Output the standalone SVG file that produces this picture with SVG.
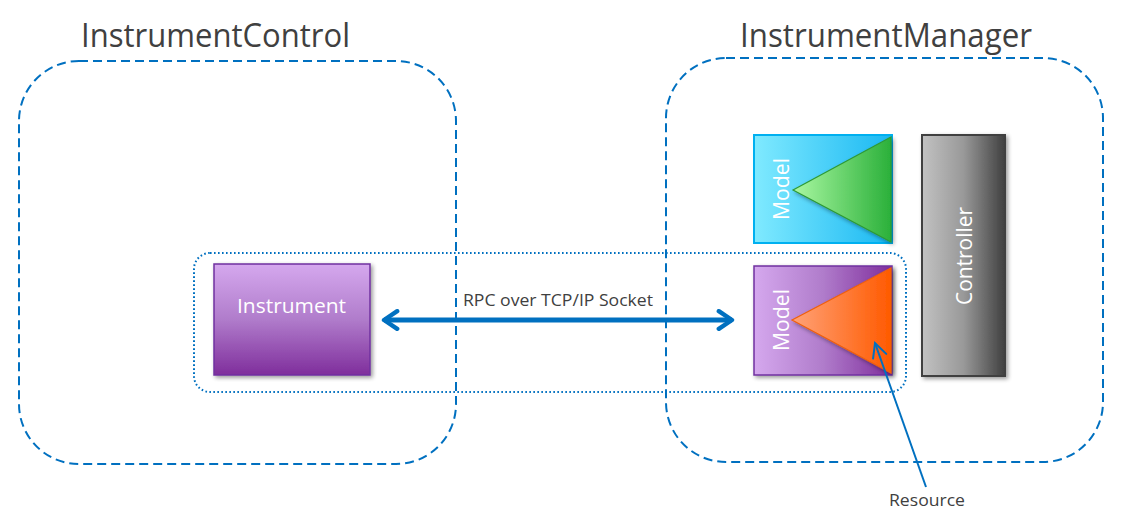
<svg xmlns="http://www.w3.org/2000/svg" width="1130" height="520" viewBox="0 0 1130 520">
<defs>
<linearGradient id="gPurpleV" x1="0" y1="0" x2="0" y2="1">
<stop offset="0" stop-color="#D5A8EE"/><stop offset="0.5" stop-color="#B07CCB"/><stop offset="1" stop-color="#7F2E9C"/>
</linearGradient>
<linearGradient id="gPurpleH" x1="0" y1="0" x2="1" y2="0">
<stop offset="0" stop-color="#D5A8EE"/><stop offset="0.5" stop-color="#B07CCB"/><stop offset="1" stop-color="#7F2E9C"/>
</linearGradient>
<linearGradient id="gCyan" x1="0" y1="0" x2="1" y2="0">
<stop offset="0" stop-color="#80EAFF"/><stop offset="1" stop-color="#1AB8F2"/>
</linearGradient>
<linearGradient id="gGreen" x1="0" y1="0" x2="1" y2="0">
<stop offset="0" stop-color="#AAF8A2"/><stop offset="1" stop-color="#2BB03A"/>
</linearGradient>
<linearGradient id="gOrange" x1="0" y1="0" x2="1" y2="0">
<stop offset="0" stop-color="#FFA278"/><stop offset="1" stop-color="#FF5A00"/>
</linearGradient>
<linearGradient id="gGray" x1="0" y1="0" x2="1" y2="0">
<stop offset="0" stop-color="#C2C2C2"/><stop offset="0.5" stop-color="#999999"/><stop offset="1" stop-color="#404040"/>
</linearGradient>
<filter id="shadow" x="-10%" y="-10%" width="130%" height="130%">
<feGaussianBlur in="SourceAlpha" stdDeviation="2"/>
<feOffset dx="2" dy="2" result="b"/>
<feComponentTransfer><feFuncA type="linear" slope="0.4"/></feComponentTransfer>
<feMerge><feMergeNode/><feMergeNode in="SourceGraphic"/></feMerge>
</filter>
<marker id="chev" viewBox="0 0 10 10" refX="8" refY="5" markerWidth="4.4" markerHeight="4.4" orient="auto-start-reverse" markerUnits="strokeWidth">
<path d="M2,1 L8,5 L2,9" fill="none" stroke="#0070C0" stroke-width="2" stroke-linecap="round" stroke-linejoin="round"/>
</marker>
<marker id="chevThin" viewBox="0 0 20 20" refX="18" refY="10" markerWidth="10" markerHeight="10" orient="auto" markerUnits="strokeWidth">
<path d="M4,3 L18,10 L4,17" fill="none" stroke="#0070C0" stroke-width="2" stroke-linecap="round"/>
</marker>
</defs>
<style>
.container{fill:none;stroke:#0070C0;stroke-width:2;stroke-dasharray:9 5}
.group{fill:none;stroke:#0070C0;stroke-width:2;stroke-dasharray:1.6 2.4}
.title{font-family:"Open Sans","Noto Sans","Liberation Sans",sans-serif;font-size:33px;fill:#404040}
.white{font-family:"Open Sans","Noto Sans","Liberation Sans",sans-serif;fill:#FFFFFF}
.label{font-family:"Open Sans","Noto Sans","Liberation Sans",sans-serif;font-size:16px;fill:#404040}
</style>
<g id="instrumentControl">
<rect class="container" x="19" y="61" width="437" height="403" rx="60"/>
<text class="title" x="81" y="47" textLength="269" lengthAdjust="spacingAndGlyphs">InstrumentControl</text>
</g>
<g id="instrumentManager">
<rect class="container" x="666" y="58" width="437" height="404" rx="60"/>
<text class="title" x="740" y="47" textLength="292" lengthAdjust="spacingAndGlyphs">InstrumentManager</text>
</g>
<g id="rpcGroup">
<rect class="group" x="194" y="253" width="712" height="139" rx="16"/>
</g>
<g id="instrument">
<rect x="214" y="264" width="156" height="111" fill="url(#gPurpleV)" stroke="#7030A0" stroke-width="1.5" filter="url(#shadow)"/>
<text class="white" x="237" y="313" font-size="20" textLength="109" lengthAdjust="spacingAndGlyphs">Instrument</text>
</g>
<g id="modelTop">
<rect x="754" y="135" width="138" height="108" fill="url(#gCyan)" stroke="#00B0F0" stroke-width="2"/>
<polygon points="793,190 891,137 891,242" fill="url(#gGreen)" stroke="#2E9A35" stroke-width="1.2" filter="url(#shadow)"/>
<text class="white" transform="translate(789,220) rotate(-90)" font-size="21" textLength="62" lengthAdjust="spacingAndGlyphs">Model</text>
</g>
<g id="modelBottom">
<rect x="754" y="266" width="138" height="109" fill="url(#gPurpleH)" stroke="#7030A0" stroke-width="1.5" filter="url(#shadow)"/>
<polygon points="792,320 891,268 891,373" fill="url(#gOrange)" stroke="#F0600A" stroke-width="1.2" filter="url(#shadow)"/>
<text class="white" transform="translate(789,351) rotate(-90)" font-size="21" textLength="62" lengthAdjust="spacingAndGlyphs">Model</text>
</g>
<g id="controller">
<rect x="922" y="135" width="83" height="241" fill="url(#gGray)" stroke="#404040" stroke-width="2" filter="url(#shadow)"/>
<text class="white" transform="translate(972,305) rotate(-90)" font-size="21" textLength="98" lengthAdjust="spacingAndGlyphs">Controller</text>
</g>
<g id="connectors">
<line x1="384" y1="320" x2="732" y2="320" stroke="#0070C0" stroke-width="5" marker-start="url(#chev)" marker-end="url(#chev)"/>
<text class="label" x="463" y="306" textLength="190" lengthAdjust="spacingAndGlyphs">RPC over TCP/IP Socket</text>
<line x1="926" y1="487" x2="875" y2="343" stroke="#0070C0" stroke-width="2" marker-end="url(#chevThin)"/>
<text class="label" x="889" y="506" font-size="17" textLength="76" lengthAdjust="spacingAndGlyphs">Resource</text>
</g>
</svg>
